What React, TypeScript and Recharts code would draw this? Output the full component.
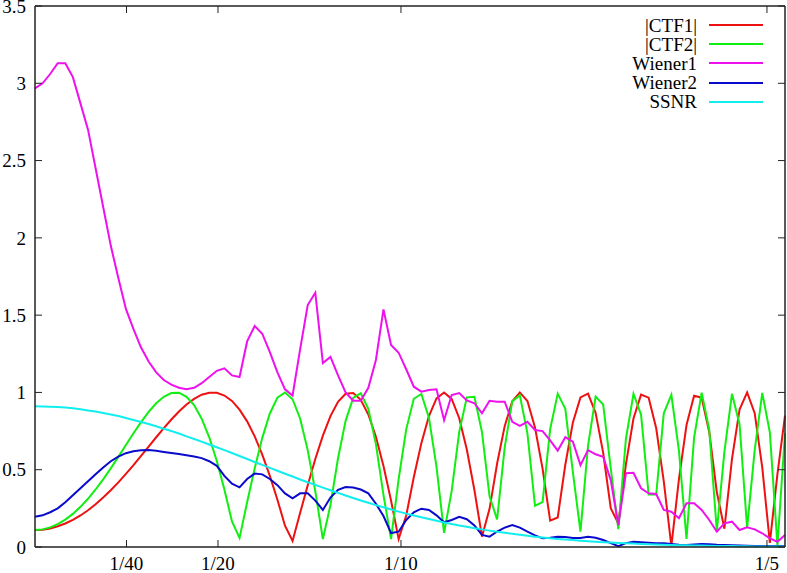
import React from 'react';
import { LineChart, Line, XAxis, YAxis, Legend } from 'recharts';

// spacing of the spatial-frequency samples (1/A)
const STEP = 0.00207;

const CTF1 = [
	0.110, 0.112, 0.120, 0.134, 0.152, 0.176, 0.204, 0.238, 0.276, 0.320,
	0.367, 0.418, 0.473, 0.530, 0.590, 0.650, 0.710, 0.769, 0.825, 0.877,
	0.922, 0.958, 0.985, 0.998, 0.998, 0.980, 0.945, 0.889, 0.813, 0.716,
	0.597, 0.460, 0.306, 0.138, 0.039, 0.221, 0.400, 0.569, 0.720, 0.847,
	0.939, 0.991, 0.996, 0.952, 0.857, 0.713, 0.524, 0.300, 0.052, 0.204,
	0.451, 0.672, 0.847, 0.961, 1.000, 0.958, 0.833, 0.631, 0.369, 0.067,
	0.247, 0.540, 0.782, 0.943, 1.000, 0.944, 0.773, 0.507, 0.171, 0.191,
	0.532, 0.805, 0.968, 0.992, 0.868, 0.609, 0.251, 0.152, 0.535, 0.831,
	0.986, 0.966, 0.768, 0.424, 0.005, 0.439, 0.789, 0.979, 0.966, 0.744,
	0.355, 0.118, 0.568, 0.889, 1.000, 0.866, 0.514, 0.027, 0.472, 0.850,
];

const CTF2 = [
	0.110, 0.114, 0.127, 0.148, 0.177, 0.214, 0.260, 0.312, 0.372, 0.438,
	0.509, 0.583, 0.660, 0.736, 0.808, 0.874, 0.930, 0.972, 0.996, 0.998,
	0.972, 0.918, 0.830, 0.710, 0.556, 0.372, 0.165, 0.059, 0.289, 0.509,
	0.706, 0.864, 0.966, 1.000, 0.956, 0.830, 0.627, 0.360, 0.051, 0.272,
	0.574, 0.816, 0.965, 0.995, 0.894, 0.666, 0.336, 0.051, 0.439, 0.761,
	0.959, 0.990, 0.837, 0.519, 0.092, 0.361, 0.745, 0.968, 0.972, 0.744,
	0.328, 0.178, 0.645, 0.943, 0.981, 0.735, 0.267, 0.290, 0.762, 0.992,
	0.894, 0.485, 0.099, 0.655, 0.973, 0.922, 0.508, 0.116, 0.699, 0.991,
	0.857, 0.339, 0.339, 0.865, 0.984, 0.623, 0.053, 0.708, 0.999, 0.759,
	0.103, 0.616, 0.991, 0.794, 0.124, 0.627, 0.997, 0.742, 0.010, 0.735,
];

const WIENER1 = [
	2.967, 3.000, 3.060, 3.130, 3.130, 3.040, 2.870, 2.700, 2.450, 2.200,
	1.950, 1.740, 1.540, 1.410, 1.290, 1.200, 1.130, 1.080, 1.050, 1.030,
	1.020, 1.030, 1.060, 1.100, 1.140, 1.156, 1.110, 1.100, 1.330, 1.430,
	1.380, 1.260, 1.130, 1.020, 0.980, 1.280, 1.565, 1.645, 1.190, 1.230,
	1.110, 1.000, 0.946, 0.946, 1.030, 1.210, 1.537, 1.307, 1.257, 1.150,
	1.037, 1.005, 1.016, 1.020, 0.820, 0.983, 0.996, 0.948, 0.930, 0.865,
	0.946, 0.940, 0.940, 0.810, 0.783, 0.810, 0.757, 0.750, 0.690, 0.623,
	0.710, 0.681, 0.530, 0.627, 0.600, 0.584, 0.433, 0.142, 0.477, 0.480,
	0.380, 0.347, 0.343, 0.240, 0.228, 0.186, 0.283, 0.283, 0.240, 0.175,
	0.099, 0.153, 0.164, 0.110, 0.127, 0.114, 0.089, 0.056, 0.034, 0.078,
];

const WIENER2 = [
	0.196, 0.205, 0.225, 0.250, 0.290, 0.335, 0.380, 0.425, 0.470, 0.515,
	0.555, 0.585, 0.607, 0.620, 0.626, 0.627, 0.622, 0.615, 0.608, 0.601,
	0.594, 0.585, 0.575, 0.555, 0.525, 0.460, 0.410, 0.386, 0.440, 0.475,
	0.470, 0.440, 0.400, 0.347, 0.315, 0.347, 0.347, 0.300, 0.240, 0.320,
	0.370, 0.388, 0.385, 0.372, 0.347, 0.280, 0.200, 0.090, 0.099, 0.175,
	0.225, 0.248, 0.240, 0.205, 0.160, 0.175, 0.195, 0.180, 0.140, 0.078,
	0.067, 0.100, 0.125, 0.142, 0.125, 0.099, 0.075, 0.056, 0.060, 0.067,
	0.065, 0.058, 0.058, 0.066, 0.060, 0.045, 0.025, 0.006, 0.025, 0.034,
	0.030, 0.027, 0.025, 0.024, 0.020, 0.015, 0.013, 0.016, 0.019, 0.017,
	0.014, 0.013, 0.011, 0.009, 0.008, 0.006, 0.006, 0.006, 0.006, 0.006,
];

const SSNR = [
	0.910, 0.909, 0.908, 0.905, 0.902, 0.897, 0.891, 0.883, 0.876, 0.867,
	0.857, 0.847, 0.835, 0.822, 0.809, 0.796, 0.781, 0.765, 0.750, 0.734,
	0.716, 0.699, 0.682, 0.663, 0.645, 0.627, 0.608, 0.589, 0.569, 0.550,
	0.531, 0.512, 0.493, 0.474, 0.456, 0.437, 0.419, 0.402, 0.384, 0.367,
	0.350, 0.333, 0.317, 0.301, 0.286, 0.271, 0.257, 0.243, 0.229, 0.216,
	0.204, 0.192, 0.181, 0.170, 0.159, 0.149, 0.139, 0.131, 0.122, 0.114,
	0.106, 0.098, 0.092, 0.085, 0.079, 0.073, 0.067, 0.062, 0.057, 0.052,
	0.049, 0.045, 0.041, 0.037, 0.034, 0.031, 0.029, 0.026, 0.024, 0.022,
	0.020, 0.018, 0.016, 0.015, 0.013, 0.012, 0.011, 0.010, 0.009, 0.008,
	0.007, 0.006, 0.006, 0.005, 0.005, 0.004, 0.004, 0.003, 0.003, 0.003,
];

const X_TICKS = [0.025, 0.05, 0.1, 0.2];
const X_LABELS = ['1/40', '1/20', '1/10', '1/5'];
const Y_TICKS = [0, 0.5, 1, 1.5, 2, 2.5, 3, 3.5];
const Y_MAX = 3.5;

const SERIES = [
	{ key: 'ctf1', name: '|CTF1|', color: '#ee1111' },
	{ key: 'ctf2', name: '|CTF2|', color: '#11ee11' },
	{ key: 'wiener1', name: 'Wiener1', color: '#ee11ee' },
	{ key: 'wiener2', name: 'Wiener2', color: '#0a0acc' },
	{ key: 'ssnr', name: 'SSNR', color: '#11eeee' },
];

const FONT = '"Liberation Serif", "Times New Roman", serif';
const X_MAX = (CTF1.length - 1) * STEP;
const FRAME = '#222';

const W = 787;
const H = 573;
const MARGIN = { top: 6, right: 2, bottom: 0, left: 0 };
const Y_AXIS_W = 35;
const X_AXIS_H = 26;
const TICK = 7; // inward tick length, px

// plot box in px, used for the top/right border and its mirror ticks
const LEFT = MARGIN.left + Y_AXIS_W;
const RIGHT = W - MARGIN.right;
const TOP = MARGIN.top;
const BOTTOM = H - MARGIN.bottom - X_AXIS_H;
const px = (v: number) => LEFT + (v / X_MAX) * (RIGHT - LEFT);
const py = (v: number) => BOTTOM - (v / Y_MAX) * (BOTTOM - TOP);

const data = CTF1.map((v, i) => ({
	freq: i * STEP,
	ctf1: v,
	ctf2: CTF2[i],
	wiener1: WIENER1[i],
	wiener2: WIENER2[i],
	ssnr: SSNR[i],
}));

const tickFont = { fontSize: 19, fill: '#000', fontFamily: FONT };

// legend keeps the plotting order of SERIES, top to bottom
function renderLegend() {
	return (
		<div style={{ fontFamily: FONT, fontSize: 19, color: '#000' }}>
			{SERIES.map((s) => (
				<div
					key={s.key}
					style={{
						display: 'flex',
						justifyContent: 'flex-end',
						alignItems: 'center',
						height: 19.2,
					}}
				>
					<span style={{ lineHeight: '19px' }}>{s.name}</span>
					<svg width={54} height={4} style={{ marginLeft: 12, marginRight: 2 }}>
						<line x1={0} y1={2} x2={54} y2={2} stroke={s.color} strokeWidth={2} />
					</svg>
				</div>
			))}
		</div>
	);
}

// top and right sides of the gnuplot-style box, with mirrored inward ticks
function BorderOverlay() {
	return (
		<svg
			width={W}
			height={H}
			style={{ position: 'absolute', left: 0, top: 0, pointerEvents: 'none' }}
		>
			<line x1={LEFT} y1={TOP} x2={RIGHT} y2={TOP} stroke={FRAME} strokeWidth={1.5} />
			<line x1={RIGHT} y1={TOP} x2={RIGHT} y2={BOTTOM} stroke={FRAME} strokeWidth={1.5} />
			{X_TICKS.map((t) => (
				<line key={`t${t}`} x1={px(t)} y1={TOP} x2={px(t)} y2={TOP + TICK} stroke={FRAME} />
			))}
			{Y_TICKS.map((t) => (
				<line key={`r${t}`} x1={RIGHT - TICK} y1={py(t)} x2={RIGHT} y2={py(t)} stroke={FRAME} />
			))}
		</svg>
	);
}

export default function App() {
	return (
		<div style={{ position: 'absolute', left: 0, top: 0, width: W, height: H }}>
			<LineChart width={W} height={H} data={data} margin={MARGIN}>
				<XAxis
					dataKey="freq"
					type="number"
					domain={[0, X_MAX]}
					ticks={X_TICKS}
					interval={0}
					tickFormatter={(v) => X_LABELS[X_TICKS.indexOf(v)]}
					tick={tickFont}
					tickSize={-TICK}
					tickMargin={17}
					height={X_AXIS_H}
					axisLine={{ stroke: FRAME, strokeWidth: 1.5 }}
					tickLine={{ stroke: FRAME }}
				/>
				<YAxis
					type="number"
					domain={[0, Y_MAX]}
					ticks={Y_TICKS}
					interval={0}
					tick={tickFont}
					tickSize={-TICK}
					tickMargin={16}
					width={Y_AXIS_W}
					axisLine={{ stroke: FRAME, strokeWidth: 1.5 }}
					tickLine={{ stroke: FRAME }}
				/>
				<Legend
					layout="horizontal"
					verticalAlign="middle"
					align="center"
					wrapperStyle={{ top: 15.5, left: 560, width: 205, height: 'auto' }}
					content={renderLegend}
				/>
				{SERIES.map((s) => (
					<Line
						key={s.key}
						dataKey={s.key}
						name={s.name}
						stroke={s.color}
						strokeWidth={2}
						type="linear"
						dot={false}
						activeDot={false}
						isAnimationActive={false}
					/>
				))}
			</LineChart>
			<BorderOverlay />
		</div>
	);
}
